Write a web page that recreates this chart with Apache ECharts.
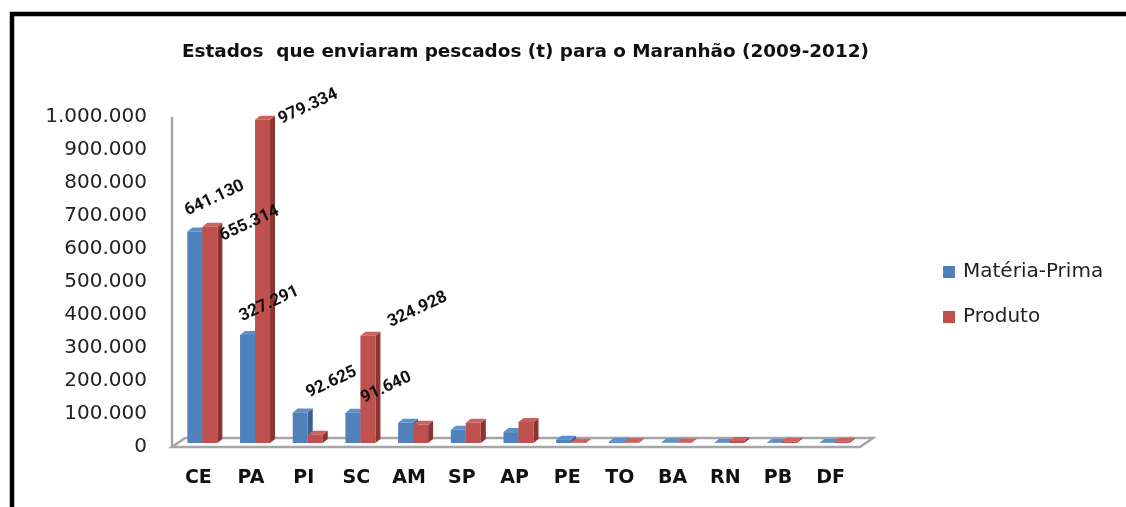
<!DOCTYPE html>
<html>
<head>
<meta charset="utf-8">
<script src="https://cdn.jsdelivr.net/npm/echarts@6/dist/echarts.min.js"></script>
<style>
  html, body { margin: 0; padding: 0; background: #fff; }
  #chart { width: 1126px; height: 507px; }
</style>
</head>
<body>
<div id="chart"></div>
<script>
// ---- data ----
const categories = ['CE', 'PA', 'PI', 'SC', 'AM', 'SP', 'AP', 'PE', 'TO', 'BA', 'RN', 'PB', 'DF'];
const materiaPrima = [641130, 327291, 92625, 91640, 61000, 40000, 33000, 10000, 4000, 2000, 1000, 1000, 1000];
const produto      = [655314, 979334, 25000, 324928, 55000, 61000, 64000, 1000, 2000, 1500, 6000, 4000, 4000];
const seriesNames = ['Matéria-Prima', 'Produto'];
const yTicks = { min: 0, max: 1000000, interval: 100000 };

// ---- layout / style ----
const FONT = 'DejaVu Sans';
const LABEL_FONT = 'bold 17px Roboto';
const BAR = { w: 15, offsets: [-11, 4], dx: 5, dy: 4, lift: 4 };
const COLORS = [
  { front: '#4F81BD', side: '#385F8F', top: '#5E8FCB' },
  { front: '#C0504D', side: '#8A3532', top: '#CC615E' }
];
// which bars carry a value label, with the label offset from the bar's front top-left corner
const labelLayout = [
  { s: 0, i: 0, dx: 2, dy: -12 },
  { s: 1, i: 0, dx: 22, dy: 18 },
  { s: 0, i: 1, dx: 4, dy: -10 },
  { s: 1, i: 1, dx: 28, dy: 8 },
  { s: 0, i: 2, dx: 18, dy: -11 },
  { s: 0, i: 3, dx: 20, dy: -6 },
  { s: 1, i: 3, dx: 32, dy: -5 }
];
const allValues = [materiaPrima, produto];

function fmt(v) {
  return String(v).replace(/\B(?=(\d{3})+(?!\d))/g, '.');
}

function barGeom(api, s, ci, v) {
  const c = api.coord([ci, v]);
  const base = api.coord([ci, 0]);
  const x0 = c[0] + BAR.offsets[s];
  const x1 = x0 + BAR.w;
  const top = c[1] - BAR.lift;
  const bot = base[1] - BAR.lift;
  return { x0, x1, top, bot };
}

function barRenderer(s) {
  const col = COLORS[s];
  return function (params, api) {
    const ci = api.value(0), v = api.value(1);
    const g = barGeom(api, s, ci, v);
    const h = Math.max(g.bot - g.top, 0);
    return {
      type: 'group',
      children: [
        { type: 'polygon', shape: { points: [[g.x1, g.top], [g.x1 + BAR.dx, g.top - BAR.dy], [g.x1 + BAR.dx, g.bot - BAR.dy], [g.x1, g.bot]] },
          style: { fill: col.side } },
        { type: 'polygon', shape: { points: [[g.x0, g.top], [g.x1, g.top], [g.x1 + BAR.dx, g.top - BAR.dy], [g.x0 + BAR.dx, g.top - BAR.dy]] },
          style: { fill: col.top } },
        { type: 'rect', shape: { x: g.x0, y: g.top, width: BAR.w, height: h },
          style: { fill: col.front } }
      ]
    };
  };
}

function floorRenderer(params, api) {
  const cs = params.coordSys;
  const yBase = api.coord([0, 0])[1];
  const yTop = api.coord([0, yTicks.max])[1];
  const L = cs.x, R = cs.x + cs.width + 3;
  const depthX = 13, depthY = 9;
  const stroke = '#A6A6A6';
  return {
    type: 'group',
    children: [
      { type: 'polyline', shape: { points: [[L, yTop], [L, yBase]] }, style: { stroke: stroke, lineWidth: 2.5, fill: null } },
      { type: 'polygon', shape: { points: [[L, yBase], [L + depthX, yBase - depthY], [R + depthX, yBase - depthY], [R, yBase]] },
        style: { stroke: stroke, lineWidth: 2.5, fill: '#fff' } }
    ]
  };
}

function labelRenderer(params, api) {
  const item = labelLayout[params.dataIndex];
  const v = allValues[item.s][item.i];
  const g = barGeom(api, item.s, item.i, v);
  return {
    type: 'text',
    x: g.x0 + item.dx,
    y: g.top + item.dy,
    rotation: 25 * Math.PI / 180,
    style: {
      text: fmt(v),
      x: 0, y: 0,
      align: 'left',
      verticalAlign: 'bottom',
      fill: '#111',
      font: LABEL_FONT
    }
  };
}

const chart = echarts.init(document.getElementById('chart'), null, { renderer: 'canvas' });

chart.setOption({
  backgroundColor: '#fff',
  animation: false,
  graphic: [
    { type: 'rect', shape: { x: 12, y: 14, width: 1300, height: 700 },
      style: { fill: null, stroke: '#000', lineWidth: 4.5 }, silent: true }
  ],
  title: {
    text: 'Estados  que enviaram pescados (t) para o Maranhão (2009-2012)',
    left: 177,
    top: 38,
    textStyle: { fontFamily: FONT, fontWeight: 'bold', fontSize: 18.4, color: '#111' }
  },
  legend: {
    data: seriesNames,
    orient: 'vertical',
    left: 938,
    top: 255,
    itemWidth: 12,
    itemHeight: 12,
    itemGap: 21,
    icon: 'rect',
    textStyle: { fontFamily: FONT, fontSize: 20, color: '#222', lineHeight: 24, padding: [0, 0, 0, 3] }
  },
  grid: { left: 172, right: 269, top: 117, bottom: 60 },
  xAxis: {
    type: 'category',
    data: categories,
    axisLine: { show: false },
    axisTick: { show: false },
    axisLabel: { fontFamily: FONT, fontWeight: 'bold', fontSize: 19, color: '#111', margin: 22, interval: 0 }
  },
  yAxis: {
    type: 'value',
    min: yTicks.min,
    max: yTicks.max,
    interval: yTicks.interval,
    axisLine: { show: false },
    axisTick: { show: false },
    splitLine: { show: false },
    axisLabel: { fontFamily: FONT, fontSize: 20, color: '#222', margin: 25, formatter: fmt }
  },
  series: [
    { name: 'floor', type: 'custom', renderItem: floorRenderer, data: [[0, 0]], silent: true, z: 1 },
    { name: seriesNames[0], type: 'custom', renderItem: barRenderer(0), itemStyle: { color: COLORS[0].front },
      data: materiaPrima.map((v, i) => [i, v]), z: 2 },
    { name: seriesNames[1], type: 'custom', renderItem: barRenderer(1), itemStyle: { color: COLORS[1].front },
      data: produto.map((v, i) => [i, v]), z: 3 },
    { name: 'labels', type: 'custom', renderItem: labelRenderer, silent: true, z: 4,
      data: labelLayout.map((l) => [l.i, allValues[l.s][l.i]]) }
  ]
});
</script>
</body>
</html>
